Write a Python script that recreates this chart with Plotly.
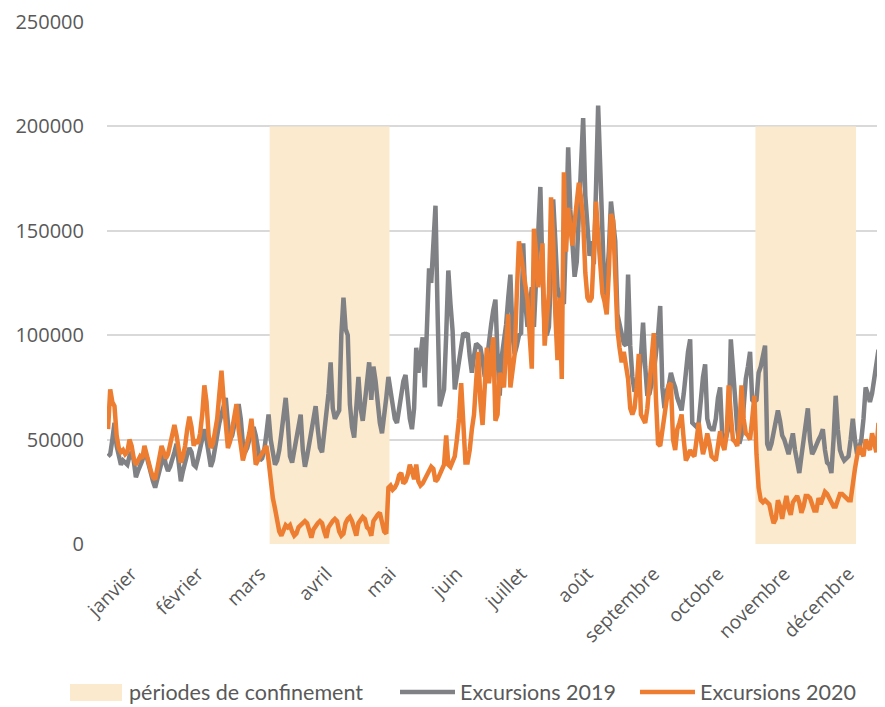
import pandas as pd
import plotly.graph_objects as go

# ---------------- données (en milliers d'excursions par jour) ----------------
mois = ["janvier", "février", "mars", "avril", "mai", "juin", "juillet",
        "août", "septembre", "octobre", "novembre", "décembre"]

excursions_2019_milliers = [
    # janvier
    42, 43, 50, 58, 47, 42, 38, 40, 39, 38, 42, 44, 40, 32, 35, 37, 40, 44, 42, 38,
    33, 30, 27, 31, 36, 40, 43, 38, 35, 37, 40,
    # février
    44, 48, 39, 30, 35, 40, 43, 46, 44, 38, 37, 41, 45, 50, 55, 50, 42, 37, 40, 45,
    52, 58, 62, 66, 70, 58, 50, 52, 58,
    # mars
    63, 67, 60, 48, 44, 46, 50, 53, 56, 52, 44, 40, 41, 45, 53, 62, 50, 42, 38, 40,
    45, 53, 62, 70, 58, 42, 39, 45, 52, 58, 62,
    # avril
    45, 37, 42, 48, 55, 60, 66, 55, 46, 44, 52, 60, 72, 87, 65, 60, 62, 64, 100, 118,
    103, 100, 67, 56, 51, 65, 80, 65, 59, 68,
    # mai
    80, 87, 69, 85, 78, 65, 58, 53, 60, 70, 80, 72, 65, 60, 58, 65, 72, 78, 81, 70,
    60, 55, 65, 94, 82, 90, 99, 75, 110, 132, 125,
    # juin
    140, 162, 110, 66, 70, 74, 100, 131, 115, 102, 74, 80, 87, 95, 101, 100, 101, 90, 82, 90,
    96, 95, 94, 88, 80, 88, 98, 105, 112, 117,
    # juillet
    90, 71, 90, 98, 105, 118, 129, 100, 91, 95, 100, 101, 144, 115, 104, 112, 123, 104, 125, 144,
    171, 130, 102, 100, 104, 130, 165, 145, 123, 118, 116,
    # août
    115, 150, 190, 160, 142, 128, 135, 160, 185, 204, 167, 150, 138, 145, 134, 170, 210, 180, 140, 119,
    125, 140, 164, 155, 145, 110, 105, 100, 96, 95, 129,
    # septembre
    95, 80, 73, 75, 78, 90, 106, 85, 71, 72, 76, 82, 91, 100, 114, 75, 65, 73, 76, 82,
    78, 75, 70, 66, 64, 72, 85, 92, 98, 58,
    # octobre
    57, 56, 58, 70, 80, 86, 60, 56, 55, 55, 60, 70, 75, 52, 48, 52, 56, 98, 80, 70,
    55, 48, 52, 65, 79, 85, 92, 69, 68, 69, 82,
    # novembre
    85, 90, 95, 48, 45, 48, 53, 58, 64, 59, 52, 50, 46, 43, 48, 53, 45, 38, 34, 42,
    50, 58, 65, 50, 43, 45, 48, 50, 52, 55,
    # décembre
    45, 39, 38, 34, 50, 71, 55, 45, 42, 40, 41, 42, 50, 60, 50, 43, 46, 50, 60, 75,
    72, 68, 72, 79, 88, 93, 60, 54, 52, 55,
]

excursions_2020_milliers = [
    # janvier
    55, 74, 68, 66, 52, 46, 44, 45, 43, 44, 50, 47, 41, 38, 40, 42, 41, 47, 43, 38,
    35, 32, 31, 36, 42, 47, 44, 41, 43, 48, 53,
    # février
    57, 52, 44, 39, 42, 47, 55, 61, 56, 47, 50, 48, 53, 62, 76, 68, 52, 46, 48, 54,
    60, 72, 83, 69, 55, 46, 49, 55, 62,
    # mars
    67, 55, 46, 40, 44, 48, 53, 60, 48, 38, 40, 42, 43, 45, 47, 40, 30, 22, 17, 10,
    6, 4, 7, 9, 8, 9, 6, 4, 5, 8, 9,
    # avril
    10, 11, 10, 6, 3, 7, 9, 10, 11, 10, 6, 3, 8, 10, 11, 12, 11, 6, 4, 5,
    10, 12, 13, 11, 7, 4, 10, 12, 13, 12,
    # mai
    8, 7, 4, 11, 13, 14, 15, 9, 6, 5, 27, 28, 26, 27, 29, 33, 34, 29, 30, 33,
    38, 35, 31, 38, 30, 28, 29, 31, 33, 35, 37,
    # juin
    36, 30, 31, 33, 35, 38, 52, 38, 37, 40, 42, 50, 60, 77, 60, 39, 39, 45, 55, 62,
    78, 92, 68, 57, 75, 94, 77, 88, 99, 59,
    # juillet
    62, 82, 78, 75, 95, 110, 75, 85, 91, 120, 145, 138, 130, 122, 117, 100, 84, 151, 140, 123,
    130, 144, 95, 108, 120, 166, 145, 110, 88, 118, 79,
    # août
    178, 140, 161, 150, 143, 154, 165, 173, 166, 155, 130, 118, 116, 118, 140, 164, 148, 130, 120, 116,
    110, 130, 158, 155, 125, 103, 94, 87, 92, 85, 79,
    # septembre
    65, 62, 65, 75, 91, 62, 60, 58, 65, 79, 90, 101, 70, 48, 47, 55, 62, 70, 76, 77,
    50, 45, 55, 58, 62, 50, 40, 42, 45, 43,
    # octobre
    42, 50, 58, 50, 43, 47, 53, 48, 42, 41, 40, 47, 54, 48, 45, 52, 76, 62, 50, 49,
    47, 55, 76, 60, 53, 52, 50, 60, 71, 43, 27,
    # novembre
    21, 20, 21, 20, 19, 14, 10, 12, 21, 18, 12, 18, 23, 17, 14, 20, 22, 23, 20, 15,
    18, 23, 23, 22, 19, 16, 16, 22, 19, 23,
    # décembre
    25, 24, 22, 21, 18, 18, 22, 24, 24, 23, 22, 21, 21, 30, 36, 42, 47, 44, 42, 50,
    47, 45, 53, 48, 44, 58, 52, 50, 59, 50, 48,
]

confinement_debuts = ["2020-03-17", "2020-10-30"]
confinement_fins = ["2020-05-11", "2020-12-15"]
confinement_hauteur = 200000

y_ticks = [0, 50000, 100000, 150000, 200000, 250000]

# ---------------- préparation ----------------
y2019 = [v * 1000 for v in excursions_2019_milliers]
y2020 = [v * 1000 for v in excursions_2020_milliers]
x2019 = list(range(len(y2019)))
x2020 = list(range(len(y2020)))


def jour(d):
    return pd.Timestamp(d).dayofyear - 1


# étiquettes de mois placées vers le milieu de chaque mois
tick_vals = [pd.Timestamp(2020, m, 12).dayofyear - 1 for m in range(1, 13)]

GRIS = "#808184"
ORANGE = "#ED7D31"
BEIGE = "#FCEACE"
TEXTE = "#595959"
FONT = "Open Sans"
LW = 4.5

fig = go.Figure()
fig.add_trace(go.Scatter(x=x2019, y=y2019, mode="lines", name="Excursions 2019",
                         line=dict(color=GRIS, width=LW), showlegend=False))
fig.add_trace(go.Scatter(x=x2020, y=y2020, mode="lines", name="Excursions 2020",
                         line=dict(color=ORANGE, width=LW), showlegend=False))

for d0, d1 in zip(confinement_debuts, confinement_fins):
    fig.add_shape(type="rect", xref="x", yref="y",
                  x0=jour(d0) - 0.5, x1=jour(d1) + 0.5, y0=0, y1=confinement_hauteur,
                  fillcolor=BEIGE, line=dict(width=0), layer="between")

# ---------------- mise en page (la page HTML décale la figure de 8 px) ----------------
OFF = 8
W, H = 885 - OFF, 707 - OFF
L, R, T, B = 107 - OFF, 0, 22 - OFF, 163
PW, PH = W - L - R, H - T - B


def px(xp):  # position en pixels de la page -> coordonnée papier
    return (xp - OFF - L) / PW


def py(yp):
    return (H - B - (yp - OFF)) / PH


leg_y = 692
fig.add_shape(type="rect", xref="paper", yref="paper",
              x0=px(70), x1=px(122), y0=py(701), y1=py(684),
              fillcolor=BEIGE, line=dict(width=0))
fig.add_shape(type="line", xref="paper", yref="paper",
              x0=px(400), x1=px(455), y0=py(leg_y), y1=py(leg_y),
              line=dict(color=GRIS, width=LW))
fig.add_shape(type="line", xref="paper", yref="paper",
              x0=px(640), x1=px(695), y0=py(leg_y), y1=py(leg_y),
              line=dict(color=ORANGE, width=LW))
for xp, txt in [(127, "périodes de confinement"), (458, "Excursions 2019"), (698, "Excursions 2020")]:
    fig.add_annotation(x=px(xp), y=py(leg_y), xref="paper", yref="paper", text=txt,
                       showarrow=False, xanchor="left", yanchor="middle",
                       font=dict(family="Lato", size=21.5, color=TEXTE))

fig.update_layout(
    width=W, height=H,
    margin=dict(l=L, r=R, t=T, b=B, autoexpand=False),
    plot_bgcolor="white", paper_bgcolor="white",
    showlegend=False,
    xaxis=dict(range=[-0.5, -0.5 + PW / 2.14], tickmode="array", tickvals=tick_vals,
               ticktext=mois, tickangle=-45, showgrid=False, zeroline=False,
               showline=False, ticks="", ticklabelstandoff=14, automargin=False,
               tickfont=dict(family=FONT, size=19, color=TEXTE)),
    yaxis=dict(range=[0, 250000], tickmode="array", tickvals=y_ticks,
               ticktext=[str(v) for v in y_ticks], showgrid=True, gridcolor="#D9D9D9",
               gridwidth=1.5, zeroline=False, showline=False, ticks="",
               ticklabelstandoff=22, automargin=False,
               tickfont=dict(family=FONT, size=20, color=TEXTE)),
)

fig.write_html("out.html")
